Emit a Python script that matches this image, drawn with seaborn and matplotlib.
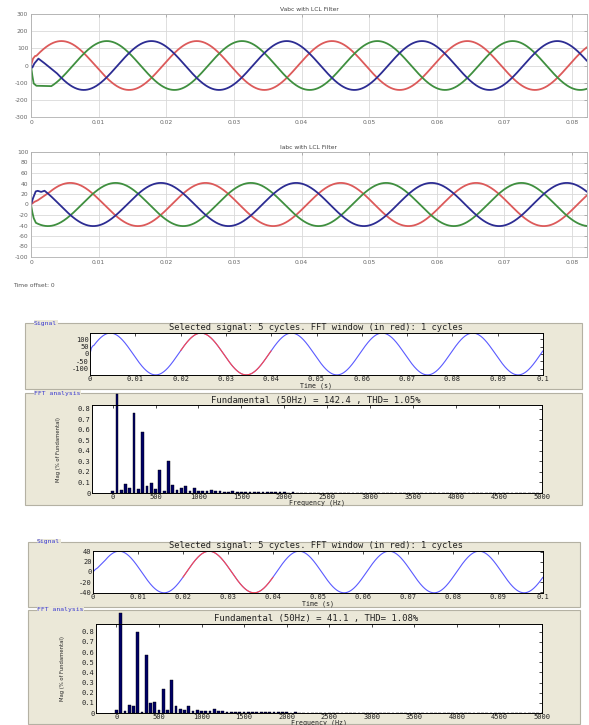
import numpy as np
import pandas as pd
import matplotlib
matplotlib.use("Agg")
import matplotlib.pyplot as plt
from matplotlib.patches import Rectangle
import seaborn as sns

# ---------------- data ----------------
FREQ_HZ = 50.0
phase_names = ["a", "b", "c"]

# Vabc with LCL filter: peak amplitude, time of a peak for each phase (s)
v_amplitude = 142.4
v_peak_times = [0.0045, 0.0112, 0.0178]
# start-up transient samples before each phase settles on its sinusoid
v_transient_t = [[0.0, 0.0003, 0.0006],
                 [0.0, 0.0002, 0.0004, 0.0008, 0.0025],
                 [0.0, 0.0002, 0.0005, 0.0011, 0.0020, 0.0028, 0.0035]]
v_transient_y = [[0, 40, 55],
                 [0, -60, -105, -118, -120],
                 [0, -12, 12, 40, 13, -13, -35]]
v_settle_t = [0.0008, 0.0030, 0.0038]

# Iabc with LCL filter
i_amplitude = 41.1
i_peak_times = [0.0058, 0.0125, 0.0192]
i_transient_t = [[0.0, 0.0005, 0.0010, 0.0018],
                 [0.0, 0.0002, 0.0004],
                 [0.0, 0.0003, 0.0007, 0.0010, 0.0015]]
i_transient_y = [[0, 5, 8, 15],
                 [0, -15, -26],
                 [0, 12, 25, 26, 24]]
i_settle_t = [0.0025, 0.0007, 0.0020]

scope_t_end = 0.0822
fft_t_end = 0.1
fft_window = [0.02, 0.04]

# FFT analysis: harmonic order 0..100 (frequency = 50 Hz * order), magnitude (% of fundamental)
harmonic_order = list(range(0, 101))
v_fft_mag = [0.022, 0.936, 0.030, 0.082, 0.050, 0.763, 0.040, 0.580, 0.070, 0.098,
             0.038, 0.220, 0.022, 0.300, 0.073, 0.032, 0.048, 0.066, 0.016, 0.044,
             0.022, 0.022, 0.022, 0.028, 0.016, 0.022, 0.012, 0.012, 0.015, 0.010,
             0.008, 0.010, 0.007, 0.008, 0.006, 0.007, 0.005, 0.006, 0.005, 0.005,
             0.005, 0.004, 0.005, 0.004, 0.004, 0.004, 0.004, 0.004, 0.004, 0.004,
             0.004, 0.004, 0.004, 0.004, 0.004, 0.004, 0.004, 0.004, 0.004, 0.004,
             0.004, 0.004, 0.004, 0.004, 0.004, 0.004, 0.004, 0.004, 0.004, 0.004,
             0.004, 0.004, 0.004, 0.004, 0.004, 0.004, 0.004, 0.004, 0.004, 0.004,
             0.004, 0.004, 0.004, 0.004, 0.004, 0.004, 0.004, 0.004, 0.004, 0.004,
             0.004, 0.004, 0.004, 0.004, 0.004, 0.004, 0.004, 0.004, 0.004, 0.004,
             0.004]
i_fft_mag = [0.026, 0.983, 0.020, 0.079, 0.066, 0.800, 0.013, 0.570, 0.099, 0.105,
             0.033, 0.237, 0.033, 0.322, 0.069, 0.043, 0.030, 0.069, 0.016, 0.030,
             0.020, 0.023, 0.023, 0.039, 0.016, 0.023, 0.013, 0.013, 0.010, 0.010,
             0.008, 0.009, 0.007, 0.008, 0.006, 0.006, 0.005, 0.006, 0.005, 0.005,
             0.005, 0.004, 0.005, 0.004, 0.004, 0.004, 0.004, 0.004, 0.004, 0.004,
             0.004, 0.004, 0.004, 0.004, 0.004, 0.004, 0.004, 0.004, 0.004, 0.004,
             0.004, 0.004, 0.004, 0.004, 0.004, 0.004, 0.004, 0.004, 0.004, 0.004,
             0.004, 0.004, 0.004, 0.004, 0.004, 0.004, 0.004, 0.004, 0.004, 0.004,
             0.004, 0.004, 0.004, 0.004, 0.004, 0.004, 0.004, 0.004, 0.004, 0.004,
             0.004, 0.004, 0.004, 0.004, 0.004, 0.004, 0.004, 0.004, 0.004, 0.004,
             0.004]

v_title = "Vabc with LCL Filter"
i_title = "Iabc with LCL Filter"
v_yticks = [-300, -200, -100, 0, 100, 200, 300]
i_yticks = [-100, -80, -60, -40, -20, 0, 20, 40, 60, 80, 100]
scope_xticks = [0, 0.01, 0.02, 0.03, 0.04, 0.05, 0.06, 0.07, 0.08]
sel_title = "Selected signal: 5 cycles. FFT window (in red): 1 cycles"
v_fft_title = "Fundamental (50Hz) = 142.4 , THD= 1.05%"
i_fft_title = "Fundamental (50Hz) = 41.1 , THD= 1.08%"
v_sig_yticks = [-100, -50, 0, 50, 100]
i_sig_yticks = [-40, -20, 0, 20, 40]
sig_xticks = [0, 0.01, 0.02, 0.03, 0.04, 0.05, 0.06, 0.07, 0.08, 0.09, 0.1]
fft_xticks = [0, 500, 1000, 1500, 2000, 2500, 3000, 3500, 4000, 4500, 5000]
fft_yticks = [0, 0.1, 0.2, 0.3, 0.4, 0.5, 0.6, 0.7, 0.8]

# ---------------- helpers ----------------
def phase_wave(amp, t_peak, tr_t, tr_y, t_settle, t_end):
    t = np.arange(t_settle, t_end, 2e-5)
    y = amp * np.cos(2 * np.pi * FREQ_HZ * (t - t_peak))
    return np.concatenate([tr_t, t]), np.concatenate([tr_y, y])


def scope_frame(amp, peaks, tr_t, tr_y, settle, t_end):
    rows = []
    for k, name in enumerate(phase_names):
        t, y = phase_wave(amp, peaks[k], tr_t[k], tr_y[k], settle[k], t_end)
        rows.append(pd.DataFrame({"t": t, "value": y, "phase": name}))
    return pd.concat(rows, ignore_index=True)


W, H = 589, 725
sns.set_style("white")
plt.rcParams["font.family"] = ["DejaVu Sans"]
GUI_FONT = "DejaVu Sans Mono"
fig = plt.figure(figsize=(W / 100, H / 100), dpi=100)
fig.patch.set_facecolor("white")


def rect(l, t, r, b):
    return [l / W, 1 - b / H, (r - l) / W, (b - t) / H]


def ftext(x, y, s, **kw):
    return fig.text(x / W, 1 - y / H, s, **kw)


def box(l, t, r, b, label):
    fig.add_artist(Rectangle((l / W, 1 - b / H), (r - l) / W, (b - t) / H,
                             transform=fig.transFigure, facecolor="#ebe8d8",
                             edgecolor="#b4b1a3", lw=0.8, zorder=-5))
    ftext(l + 9, t, label, fontsize=4.6, color="#3a3ad0", va="center", ha="left",
          family=GUI_FONT,
          bbox=dict(facecolor="#ebe8d8", edgecolor="none", pad=0.3), zorder=-4)


PHASE_COLORS = ["#dc5a5a", "#3f8f3f", "#2c2c92"]


def scope_axes(pos, df, yticks, title):
    ax = fig.add_axes(rect(*pos))
    sns.lineplot(data=df, x="t", y="value", hue="phase", palette=PHASE_COLORS,
                 estimator=None, legend=False, lw=1.3, ax=ax)
    ax.set_xlim(0, scope_t_end)
    ax.set_ylim(yticks[0], yticks[-1])
    ax.set_xticks(scope_xticks)
    ax.set_xticklabels(["0"] + [f"{v:g}" for v in scope_xticks[1:]])
    ax.set_yticks(yticks)
    ax.set_yticklabels([str(v) for v in yticks])
    ax.grid(True, color="#d9d9d9", lw=0.6)
    ax.set_axisbelow(True)
    ax.tick_params(direction="in", top=True, right=True, length=2.5, width=0.5,
                   color="#999999", labelsize=4.3, labelcolor="#666666", pad=2)
    for s in ax.spines.values():
        s.set_color("#b0b0b0")
        s.set_linewidth(0.6)
    ax.set_xlabel("")
    ax.set_ylabel("")
    ax.set_title(title, fontsize=4.3, color="#444444", pad=2.5)
    return ax


# ---------------- scopes ----------------
v_df = scope_frame(v_amplitude, v_peak_times, v_transient_t, v_transient_y, v_settle_t, scope_t_end + 0.001)
i_df = scope_frame(i_amplitude, i_peak_times, i_transient_t, i_transient_y, i_settle_t, scope_t_end + 0.001)
scope_axes((31, 14, 587, 117), v_df, v_yticks, v_title)
scope_axes((31, 152, 587, 257), i_df, i_yticks, i_title)
ftext(13, 286, "Time offset: 0", fontsize=4.3, color="#555555", va="center")


# ---------------- FFT blocks ----------------
def style_gui_axes(ax):
    ax.set_facecolor("white")
    ax.tick_params(direction="in", top=True, right=True, length=2.5, width=0.5,
                   color="black", labelsize=5.0, labelcolor="#222222", pad=1.0)
    for lab in ax.get_xticklabels() + ax.get_yticklabels():
        lab.set_family(GUI_FONT)
    for s in ax.spines.values():
        s.set_color("black")
        s.set_linewidth(0.7)


def signal_axes(pos, amp, t_peak, tr_t, tr_y, t_settle, yticks, ylim):
    ax = fig.add_axes(rect(*pos))
    t, y = phase_wave(amp, t_peak, tr_t, tr_y, t_settle, fft_t_end + 1e-5)
    df = pd.DataFrame({"t": t, "value": y})
    sns.lineplot(data=df, x="t", y="value", color="#5a5aff", lw=0.8, estimator=None, ax=ax)
    win = df[(df.t >= fft_window[0]) & (df.t <= fft_window[1])]
    sns.lineplot(data=win, x="t", y="value", color="#ff4a4a", lw=0.8, estimator=None, ax=ax)
    ax.set_xlim(0, fft_t_end)
    ax.set_ylim(*ylim)
    ax.set_xticks(sig_xticks)
    ax.set_xticklabels(["0"] + [f"{v:g}" for v in sig_xticks[1:]])
    ax.set_yticks(yticks)
    ax.set_yticklabels([str(v) for v in yticks])
    style_gui_axes(ax)
    ax.set_xlabel("")
    ax.set_ylabel("")
    l, t_, r, b = pos
    ftext((l + r) / 2, b + 10.5, "Time (s)", fontsize=4.8, family=GUI_FONT,
          ha="center", va="center", color="#222222")
    return ax


def fft_axes(pos, mags, ytop):
    ax = fig.add_axes(rect(*pos))
    freqs = [FREQ_HZ * h for h in harmonic_order]
    df = pd.DataFrame({"freq": freqs, "mag": mags})
    sns.barplot(data=df, x="freq", y="mag", native_scale=True, width=0.65,
                color="#000066", edgecolor="black", linewidth=0.3, errorbar=None,
                saturation=1, ax=ax)
    for p in ax.patches:
        p.set_clip_on(False)
    ax.set_xlim(-240, 5000)
    ax.set_ylim(0, ytop)
    ax.set_xticks(fft_xticks)
    ax.set_xticklabels([str(v) for v in fft_xticks])
    ax.set_yticks(fft_yticks)
    ax.set_yticklabels(["0"] + [f"{v:g}" for v in fft_yticks[1:]])
    style_gui_axes(ax)
    ax.set_xlabel("")
    ax.set_ylabel("Mag (% of Fundamental)", fontsize=3.8, labelpad=12)
    l, t_, r, b = pos
    ftext((l + r) / 2, b + 10, "Frequency (Hz)", fontsize=4.8, family=GUI_FONT,
          ha="center", va="center", color="#222222")
    return ax


# block 1 (voltage)
box(25, 323, 582, 389, "Signal")
box(25, 393, 582, 505, "FFT analysis")
signal_axes((90, 333, 543, 375), v_amplitude, v_peak_times[0], v_transient_t[0],
            v_transient_y[0], v_settle_t[0], v_sig_yticks, (-143, 143))
ftext(316, 328, sel_title, fontsize=6.3, family=GUI_FONT, ha="center", va="center", color="#222222")
fft_axes((92, 405, 542, 493), v_fft_mag, 0.836)
ftext(316, 400, v_fft_title, fontsize=6.5, family=GUI_FONT, ha="center", va="center", color="#222222")

# block 2 (current)
box(28, 542, 580, 607, "Signal")
box(28, 610, 580, 724, "FFT analysis")
signal_axes((93, 551, 543, 593), i_amplitude, i_peak_times[0], i_transient_t[0],
            i_transient_y[0], i_settle_t[0], i_sig_yticks, (-41.5, 41.5))
ftext(316, 546, sel_title, fontsize=6.3, family=GUI_FONT, ha="center", va="center", color="#222222")
fft_axes((96, 624, 542, 713), i_fft_mag, 0.876)
ftext(316, 618, i_fft_title, fontsize=6.5, family=GUI_FONT, ha="center", va="center", color="#222222")

fig.savefig("out.png", dpi=100)
